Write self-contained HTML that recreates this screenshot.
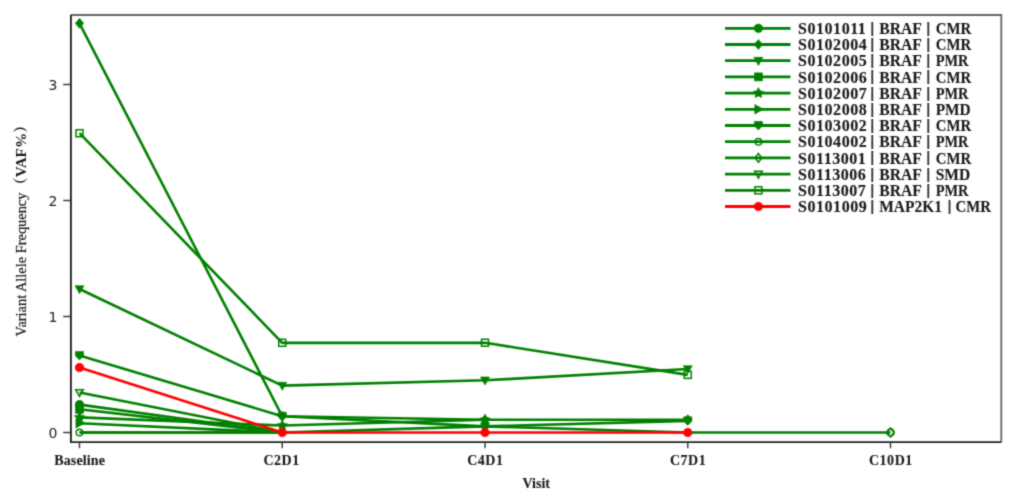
<!DOCTYPE html>
<html><head><meta charset="utf-8"><style>
html,body{margin:0;padding:0;background:#fff;width:1016px;height:496px;overflow:hidden}
svg{display:block}
.ser{font-family:"Liberation Serif",serif}
.san{font-family:"Liberation Sans",sans-serif}
</style></head><body>
<svg width="1016" height="496" viewBox="0 0 1016 496">
<defs><filter id="soft" color-interpolation-filters="sRGB" x="0" y="0" width="1016" height="496" filterUnits="userSpaceOnUse"><feConvolveMatrix order="3" kernelMatrix="0.0277 0.1110 0.0277 0.1110 0.4452 0.1110 0.0277 0.1110 0.0277" divisor="1" edgeMode="duplicate" preserveAlpha="true"/></filter></defs>
<rect width="1016" height="496" fill="#fff"/>
<g filter="url(#soft)">
<rect width="1016" height="496" fill="#fff"/>

<g fill="none" stroke-width="2.6" stroke-linejoin="round">
<path d="M79.50,404.66L282.25,432.50" stroke="#008000"/>
<path d="M79.50,23.37L282.25,416.26L485.00,419.74L687.75,419.74" stroke="#008000"/>
<path d="M79.50,289.01L282.25,385.64L485.00,380.30L687.75,369.05" stroke="#008000"/>
<path d="M79.50,409.30L282.25,432.50" stroke="#008000"/>
<path d="M79.50,417.42L282.25,425.54L485.00,419.74" stroke="#008000"/>
<path d="M79.50,423.22L282.25,432.50" stroke="#008000"/>
<path d="M79.50,355.48L282.25,416.26L485.00,426.35L687.75,420.90" stroke="#008000"/>
<path d="M79.50,432.50L282.25,432.50" stroke="#008000"/>
<path d="M79.50,432.50L282.25,432.50L485.00,426.35L687.75,432.50L890.50,432.50" stroke="#008000"/>
<path d="M79.50,392.48L282.25,432.50" stroke="#008000"/>
<path d="M79.50,133.22L282.25,342.83L485.00,342.72L687.75,374.85" stroke="#008000"/>
<path d="M79.50,367.54L282.25,432.50L485.00,432.50L687.75,432.50" stroke="#ff0000"/>
</g>
<g>
<circle cx="79.50" cy="404.66" r="4.30" fill="#008000" stroke="#008000" stroke-width="0.6"/>
<path d="M79.50,18.37L83.70,23.37L79.50,28.37L75.30,23.37Z" fill="#008000" stroke="#008000" stroke-width="0.6"/>
<path d="M282.25,411.26L286.45,416.26L282.25,421.26L278.05,416.26Z" fill="#008000" stroke="#008000" stroke-width="0.6"/>
<path d="M485.00,414.74L489.20,419.74L485.00,424.74L480.80,419.74Z" fill="#008000" stroke="#008000" stroke-width="0.6"/>
<path d="M687.75,414.74L691.95,419.74L687.75,424.74L683.55,419.74Z" fill="#008000" stroke="#008000" stroke-width="0.6"/>
<path d="M75.00,285.63L84.00,285.63L79.50,293.73Z" fill="#008000" stroke="#008000" stroke-width="0.6"/>
<path d="M277.75,382.26L286.75,382.26L282.25,390.36Z" fill="#008000" stroke="#008000" stroke-width="0.6"/>
<path d="M480.50,376.93L489.50,376.93L485.00,385.03Z" fill="#008000" stroke="#008000" stroke-width="0.6"/>
<path d="M683.25,365.67L692.25,365.67L687.75,373.77Z" fill="#008000" stroke="#008000" stroke-width="0.6"/>
<rect x="75.50" y="405.30" width="8.00" height="8.00" fill="#008000" stroke="#008000" stroke-width="0.6"/>
<polygon points="79.50,411.92 81.15,415.15 84.73,415.72 82.16,418.29 82.73,421.87 79.50,420.22 76.27,421.87 76.84,418.29 74.27,415.72 77.85,415.15" fill="#008000" stroke="#008000" stroke-width="0.6"/>
<polygon points="282.25,420.04 283.90,423.27 287.48,423.84 284.91,426.41 285.48,429.99 282.25,428.34 279.02,429.99 279.59,426.41 277.02,423.84 280.60,423.27" fill="#008000" stroke="#008000" stroke-width="0.6"/>
<polygon points="485.00,414.24 486.65,417.47 490.23,418.04 487.66,420.61 488.23,424.19 485.00,422.54 481.77,424.19 482.34,420.61 479.77,418.04 483.35,417.47" fill="#008000" stroke="#008000" stroke-width="0.6"/>
<path d="M75.90,418.42L84.54,423.22L75.90,428.02Z" fill="#008000" stroke="#008000" stroke-width="0.6"/>
<path d="M75.45,351.43L83.55,351.43L83.55,355.88L79.50,359.93L75.45,355.88Z" fill="#008000" stroke="#008000" stroke-width="0.6"/>
<path d="M278.20,412.21L286.30,412.21L286.30,416.66L282.25,420.71L278.20,416.66Z" fill="#008000" stroke="#008000" stroke-width="0.6"/>
<path d="M480.95,422.30L489.05,422.30L489.05,426.76L485.00,430.81L480.95,426.76Z" fill="#008000" stroke="#008000" stroke-width="0.6"/>
<path d="M683.70,416.85L691.80,416.85L691.80,421.30L687.75,425.35L683.70,421.30Z" fill="#008000" stroke="#008000" stroke-width="0.6"/>
<circle cx="79.50" cy="432.50" r="3.30" fill="none" stroke="#008000" stroke-width="1.5"/>
<path d="M485.00,421.95L488.40,426.35L485.00,430.75L481.60,426.35Z" fill="none" stroke="#008000" stroke-width="1.5"/>
<path d="M890.50,428.10L893.90,432.50L890.50,436.90L887.10,432.50Z" fill="none" stroke="#008000" stroke-width="1.5"/>
<circle cx="890.50" cy="432.50" r="3.7" fill="none" stroke="#008000" stroke-width="1.4"/>
<path d="M75.70,389.63L83.30,389.63L79.50,396.47Z" fill="none" stroke="#008000" stroke-width="1.5"/>
<rect x="76.00" y="129.72" width="7.00" height="7.00" fill="none" stroke="#008000" stroke-width="1.5"/>
<rect x="278.75" y="339.33" width="7.00" height="7.00" fill="none" stroke="#008000" stroke-width="1.5"/>
<rect x="481.50" y="339.22" width="7.00" height="7.00" fill="none" stroke="#008000" stroke-width="1.5"/>
<rect x="684.25" y="371.35" width="7.00" height="7.00" fill="none" stroke="#008000" stroke-width="1.5"/>
<circle cx="79.50" cy="367.54" r="4.30" fill="#ff0000" stroke="#ff0000" stroke-width="0.6"/>
<circle cx="282.25" cy="432.50" r="4.30" fill="#ff0000" stroke="#ff0000" stroke-width="0.6"/>
<circle cx="485.00" cy="432.50" r="4.30" fill="#ff0000" stroke="#ff0000" stroke-width="0.6"/>
<circle cx="687.75" cy="432.50" r="4.30" fill="#ff0000" stroke="#ff0000" stroke-width="0.6"/>
</g>
<path d="M70.9,15H1001.3V442.15" fill="none" stroke="#666" stroke-width="1.8"/>
<path d="M70.9,15V442.15H1001.3" fill="none" stroke="#222" stroke-width="1.9"/>
<line x1="63.2" y1="432.50" x2="70" y2="432.50" stroke="#333" stroke-width="1.4"/>
<text x="57.3" y="437.70" text-anchor="end" font-family="DejaVu Sans, sans-serif" font-size="14" fill="#222">0</text>
<line x1="63.2" y1="316.50" x2="70" y2="316.50" stroke="#333" stroke-width="1.4"/>
<text x="57.3" y="321.70" text-anchor="end" font-family="DejaVu Sans, sans-serif" font-size="14" fill="#222">1</text>
<line x1="63.2" y1="200.50" x2="70" y2="200.50" stroke="#333" stroke-width="1.4"/>
<text x="57.3" y="205.70" text-anchor="end" font-family="DejaVu Sans, sans-serif" font-size="14" fill="#222">2</text>
<line x1="63.2" y1="84.50" x2="70" y2="84.50" stroke="#333" stroke-width="1.4"/>
<text x="57.3" y="89.70" text-anchor="end" font-family="DejaVu Sans, sans-serif" font-size="14" fill="#222">3</text>
<line x1="79.50" y1="442" x2="79.50" y2="448.2" stroke="#333" stroke-width="1.4"/>
<text x="79.67" y="465" text-anchor="middle" class="ser" font-weight="bold" font-size="14" letter-spacing="0.15" fill="#1a1a1a" stroke="#1a1a1a" stroke-width="0.1">Baseline</text>
<line x1="282.25" y1="442" x2="282.25" y2="448.2" stroke="#333" stroke-width="1.4"/>
<text x="281.62" y="465" text-anchor="middle" class="ser" font-weight="bold" font-size="14" letter-spacing="0.55" fill="#1a1a1a" stroke="#1a1a1a" stroke-width="0.1">C2D1</text>
<line x1="485.00" y1="442" x2="485.00" y2="448.2" stroke="#333" stroke-width="1.4"/>
<text x="485.38" y="465" text-anchor="middle" class="ser" font-weight="bold" font-size="14" letter-spacing="0.55" fill="#1a1a1a" stroke="#1a1a1a" stroke-width="0.1">C4D1</text>
<line x1="687.75" y1="442" x2="687.75" y2="448.2" stroke="#333" stroke-width="1.4"/>
<text x="688.12" y="465" text-anchor="middle" class="ser" font-weight="bold" font-size="14" letter-spacing="0.55" fill="#1a1a1a" stroke="#1a1a1a" stroke-width="0.1">C7D1</text>
<line x1="890.50" y1="442" x2="890.50" y2="448.2" stroke="#333" stroke-width="1.4"/>
<text x="890.88" y="465" text-anchor="middle" class="ser" font-weight="bold" font-size="14" letter-spacing="0.55" fill="#1a1a1a" stroke="#1a1a1a" stroke-width="0.1">C10D1</text>
<text x="536.2" y="488" text-anchor="middle" class="ser" font-weight="bold" font-size="14" fill="#1a1a1a" stroke="#1a1a1a" stroke-width="0.1">Visit</text>
<text transform="translate(25.6,336.4) rotate(-90)" x="0" y="0" font-family="Liberation Serif, Noto Serif CJK SC, serif" font-size="14.4" fill="#1a1a1a" stroke="#1a1a1a" stroke-width="0.2">Variant Allele Frequency<tspan font-weight="bold" stroke-width="0" font-size="15.2">（VAF%）</tspan></text>
<line x1="725" y1="28.30" x2="790.5" y2="28.30" stroke="#008000" stroke-width="2.8"/>
<circle cx="758.40" cy="28.30" r="4.30" fill="#008000" stroke="#008000" stroke-width="0.6"/>
<g class="ser" font-weight="bold" font-size="16" fill="#1a1a1a" stroke="#1a1a1a" stroke-width="0.12"><text x="798.0" y="33.90" letter-spacing="0.55">S0101011</text><text x="872.2" y="32.80" class="san" font-size="14.5" text-anchor="middle" fill="#333" stroke="none">|</text><text x="879.3" y="33.90" textLength="42.6" lengthAdjust="spacingAndGlyphs">BRAF</text><text x="928.2" y="32.80" class="san" font-size="14.5" text-anchor="middle" fill="#333" stroke="none">|</text><text x="935.7" y="33.90" textLength="35.4" lengthAdjust="spacingAndGlyphs">CMR</text></g>
<line x1="725" y1="44.50" x2="790.5" y2="44.50" stroke="#008000" stroke-width="2.8"/>
<path d="M758.40,39.50L762.60,44.50L758.40,49.50L754.20,44.50Z" fill="#008000" stroke="#008000" stroke-width="0.6"/>
<g class="ser" font-weight="bold" font-size="16" fill="#1a1a1a" stroke="#1a1a1a" stroke-width="0.12"><text x="798.0" y="50.10" letter-spacing="0.55">S0102004</text><text x="872.2" y="49.00" class="san" font-size="14.5" text-anchor="middle" fill="#333" stroke="none">|</text><text x="879.3" y="50.10" textLength="42.6" lengthAdjust="spacingAndGlyphs">BRAF</text><text x="928.2" y="49.00" class="san" font-size="14.5" text-anchor="middle" fill="#333" stroke="none">|</text><text x="935.7" y="50.10" textLength="35.4" lengthAdjust="spacingAndGlyphs">CMR</text></g>
<line x1="725" y1="60.70" x2="790.5" y2="60.70" stroke="#008000" stroke-width="2.8"/>
<path d="M753.90,57.33L762.90,57.33L758.40,65.42Z" fill="#008000" stroke="#008000" stroke-width="0.6"/>
<g class="ser" font-weight="bold" font-size="16" fill="#1a1a1a" stroke="#1a1a1a" stroke-width="0.12"><text x="798.0" y="66.30" letter-spacing="0.55">S0102005</text><text x="872.2" y="65.20" class="san" font-size="14.5" text-anchor="middle" fill="#333" stroke="none">|</text><text x="879.3" y="66.30" textLength="42.6" lengthAdjust="spacingAndGlyphs">BRAF</text><text x="928.2" y="65.20" class="san" font-size="14.5" text-anchor="middle" fill="#333" stroke="none">|</text><text x="935.7" y="66.30" textLength="32.8" lengthAdjust="spacingAndGlyphs">PMR</text></g>
<line x1="725" y1="76.90" x2="790.5" y2="76.90" stroke="#008000" stroke-width="2.8"/>
<rect x="754.40" y="72.90" width="8.00" height="8.00" fill="#008000" stroke="#008000" stroke-width="0.6"/>
<g class="ser" font-weight="bold" font-size="16" fill="#1a1a1a" stroke="#1a1a1a" stroke-width="0.12"><text x="798.0" y="82.50" letter-spacing="0.55">S0102006</text><text x="872.2" y="81.40" class="san" font-size="14.5" text-anchor="middle" fill="#333" stroke="none">|</text><text x="879.3" y="82.50" textLength="42.6" lengthAdjust="spacingAndGlyphs">BRAF</text><text x="928.2" y="81.40" class="san" font-size="14.5" text-anchor="middle" fill="#333" stroke="none">|</text><text x="935.7" y="82.50" textLength="35.4" lengthAdjust="spacingAndGlyphs">CMR</text></g>
<line x1="725" y1="93.10" x2="790.5" y2="93.10" stroke="#008000" stroke-width="2.8"/>
<polygon points="758.40,87.60 760.05,90.83 763.63,91.40 761.06,93.97 761.63,97.55 758.40,95.90 755.17,97.55 755.74,93.97 753.17,91.40 756.75,90.83" fill="#008000" stroke="#008000" stroke-width="0.6"/>
<g class="ser" font-weight="bold" font-size="16" fill="#1a1a1a" stroke="#1a1a1a" stroke-width="0.12"><text x="798.0" y="98.70" letter-spacing="0.55">S0102007</text><text x="872.2" y="97.60" class="san" font-size="14.5" text-anchor="middle" fill="#333" stroke="none">|</text><text x="879.3" y="98.70" textLength="42.6" lengthAdjust="spacingAndGlyphs">BRAF</text><text x="928.2" y="97.60" class="san" font-size="14.5" text-anchor="middle" fill="#333" stroke="none">|</text><text x="935.7" y="98.70" textLength="32.8" lengthAdjust="spacingAndGlyphs">PMR</text></g>
<line x1="725" y1="109.30" x2="790.5" y2="109.30" stroke="#008000" stroke-width="2.8"/>
<path d="M754.80,104.50L763.44,109.30L754.80,114.10Z" fill="#008000" stroke="#008000" stroke-width="0.6"/>
<g class="ser" font-weight="bold" font-size="16" fill="#1a1a1a" stroke="#1a1a1a" stroke-width="0.12"><text x="798.0" y="114.90" letter-spacing="0.55">S0102008</text><text x="872.2" y="113.80" class="san" font-size="14.5" text-anchor="middle" fill="#333" stroke="none">|</text><text x="879.3" y="114.90" textLength="42.6" lengthAdjust="spacingAndGlyphs">BRAF</text><text x="928.2" y="113.80" class="san" font-size="14.5" text-anchor="middle" fill="#333" stroke="none">|</text><text x="935.7" y="114.90" textLength="35.0" lengthAdjust="spacingAndGlyphs">PMD</text></g>
<line x1="725" y1="125.50" x2="790.5" y2="125.50" stroke="#008000" stroke-width="2.8"/>
<path d="M754.35,121.45L762.45,121.45L762.45,125.90L758.40,129.95L754.35,125.90Z" fill="#008000" stroke="#008000" stroke-width="0.6"/>
<g class="ser" font-weight="bold" font-size="16" fill="#1a1a1a" stroke="#1a1a1a" stroke-width="0.12"><text x="798.0" y="131.10" letter-spacing="0.55">S0103002</text><text x="872.2" y="130.00" class="san" font-size="14.5" text-anchor="middle" fill="#333" stroke="none">|</text><text x="879.3" y="131.10" textLength="42.6" lengthAdjust="spacingAndGlyphs">BRAF</text><text x="928.2" y="130.00" class="san" font-size="14.5" text-anchor="middle" fill="#333" stroke="none">|</text><text x="935.7" y="131.10" textLength="35.4" lengthAdjust="spacingAndGlyphs">CMR</text></g>
<line x1="725" y1="141.70" x2="790.5" y2="141.70" stroke="#008000" stroke-width="2.8"/>
<circle cx="758.40" cy="141.70" r="3.30" fill="none" stroke="#008000" stroke-width="1.5"/>
<g class="ser" font-weight="bold" font-size="16" fill="#1a1a1a" stroke="#1a1a1a" stroke-width="0.12"><text x="798.0" y="147.30" letter-spacing="0.55">S0104002</text><text x="872.2" y="146.20" class="san" font-size="14.5" text-anchor="middle" fill="#333" stroke="none">|</text><text x="879.3" y="147.30" textLength="42.6" lengthAdjust="spacingAndGlyphs">BRAF</text><text x="928.2" y="146.20" class="san" font-size="14.5" text-anchor="middle" fill="#333" stroke="none">|</text><text x="935.7" y="147.30" textLength="32.8" lengthAdjust="spacingAndGlyphs">PMR</text></g>
<line x1="725" y1="157.90" x2="790.5" y2="157.90" stroke="#008000" stroke-width="2.8"/>
<path d="M758.40,153.50L761.80,157.90L758.40,162.30L755.00,157.90Z" fill="none" stroke="#008000" stroke-width="1.5"/>
<g class="ser" font-weight="bold" font-size="16" fill="#1a1a1a" stroke="#1a1a1a" stroke-width="0.12"><text x="798.0" y="163.50" letter-spacing="0.55">S0113001</text><text x="872.2" y="162.40" class="san" font-size="14.5" text-anchor="middle" fill="#333" stroke="none">|</text><text x="879.3" y="163.50" textLength="42.6" lengthAdjust="spacingAndGlyphs">BRAF</text><text x="928.2" y="162.40" class="san" font-size="14.5" text-anchor="middle" fill="#333" stroke="none">|</text><text x="935.7" y="163.50" textLength="35.4" lengthAdjust="spacingAndGlyphs">CMR</text></g>
<line x1="725" y1="174.10" x2="790.5" y2="174.10" stroke="#008000" stroke-width="2.8"/>
<path d="M754.60,171.25L762.20,171.25L758.40,178.09Z" fill="none" stroke="#008000" stroke-width="1.5"/>
<g class="ser" font-weight="bold" font-size="16" fill="#1a1a1a" stroke="#1a1a1a" stroke-width="0.12"><text x="798.0" y="179.70" letter-spacing="0.55">S0113006</text><text x="872.2" y="178.60" class="san" font-size="14.5" text-anchor="middle" fill="#333" stroke="none">|</text><text x="879.3" y="179.70" textLength="42.6" lengthAdjust="spacingAndGlyphs">BRAF</text><text x="928.2" y="178.60" class="san" font-size="14.5" text-anchor="middle" fill="#333" stroke="none">|</text><text x="935.7" y="179.70" textLength="34.6" lengthAdjust="spacingAndGlyphs">SMD</text></g>
<line x1="725" y1="190.30" x2="790.5" y2="190.30" stroke="#008000" stroke-width="2.8"/>
<rect x="754.90" y="186.80" width="7.00" height="7.00" fill="none" stroke="#008000" stroke-width="1.5"/>
<g class="ser" font-weight="bold" font-size="16" fill="#1a1a1a" stroke="#1a1a1a" stroke-width="0.12"><text x="798.0" y="195.90" letter-spacing="0.55">S0113007</text><text x="872.2" y="194.80" class="san" font-size="14.5" text-anchor="middle" fill="#333" stroke="none">|</text><text x="879.3" y="195.90" textLength="42.6" lengthAdjust="spacingAndGlyphs">BRAF</text><text x="928.2" y="194.80" class="san" font-size="14.5" text-anchor="middle" fill="#333" stroke="none">|</text><text x="935.7" y="195.90" textLength="32.8" lengthAdjust="spacingAndGlyphs">PMR</text></g>
<line x1="725" y1="206.50" x2="790.5" y2="206.50" stroke="#ff0000" stroke-width="2.8"/>
<circle cx="758.40" cy="206.50" r="4.30" fill="#ff0000" stroke="#ff0000" stroke-width="0.6"/>
<g class="ser" font-weight="bold" font-size="16" fill="#1a1a1a" stroke="#1a1a1a" stroke-width="0.12"><text x="798.0" y="212.10" letter-spacing="0.55">S0101009</text><text x="872.2" y="211.00" class="san" font-size="14.5" text-anchor="middle" fill="#333" stroke="none">|</text><text x="879.3" y="212.10" textLength="62.6" lengthAdjust="spacingAndGlyphs">MAP2K1</text><text x="949.5" y="211.00" class="san" font-size="14.5" text-anchor="middle" fill="#333" stroke="none">|</text><text x="955.5" y="212.10" textLength="35.4" lengthAdjust="spacingAndGlyphs">CMR</text></g>
</g>
</svg>
</body></html>
